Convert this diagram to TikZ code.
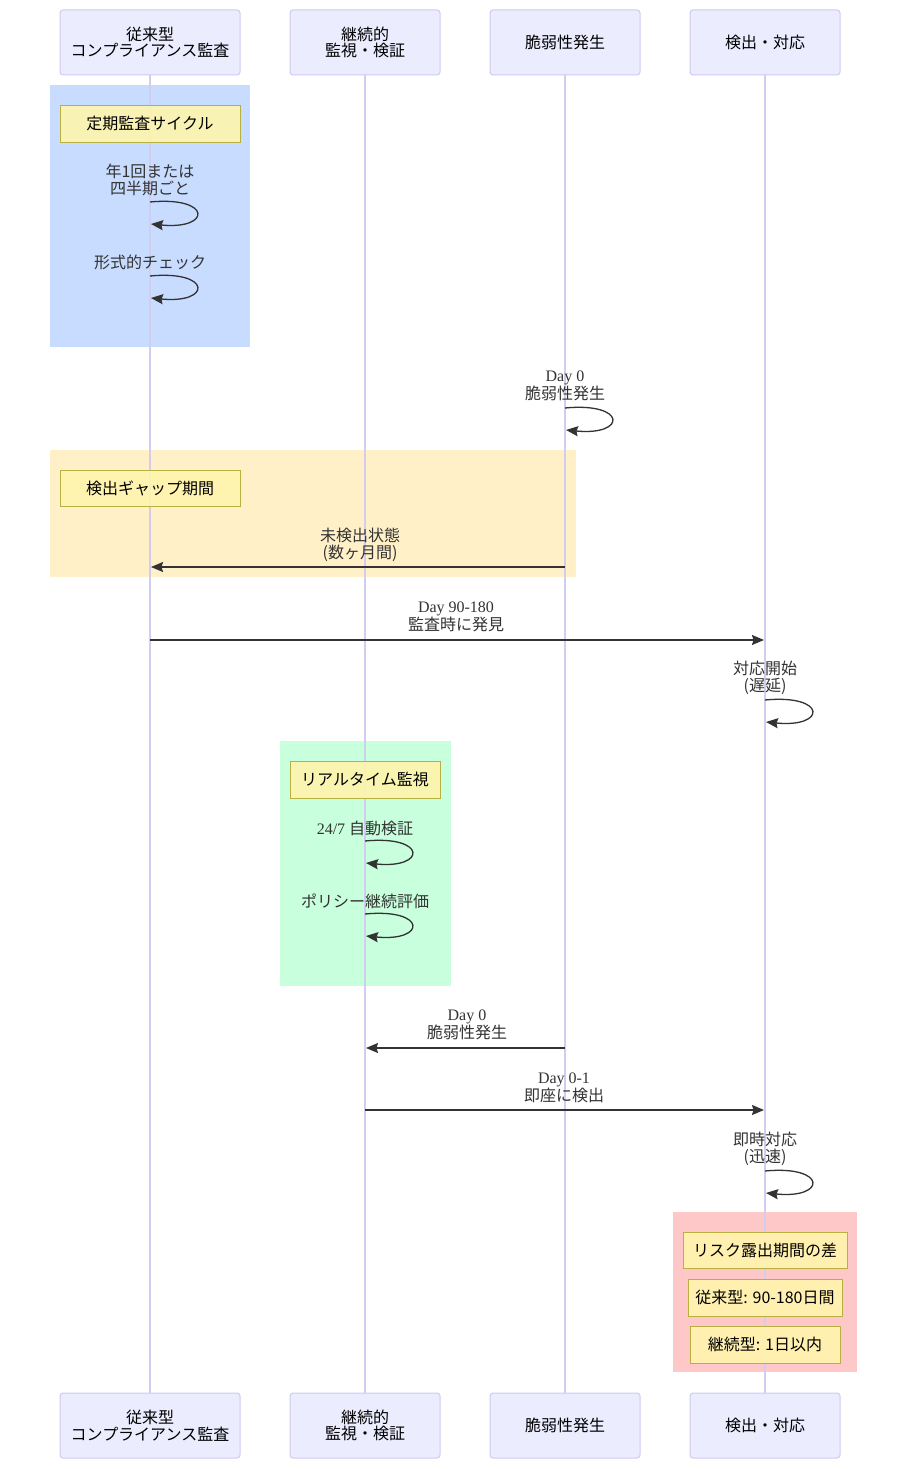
\documentclass[tikz,border=0pt]{standalone}
\usepackage{fontspec}
\setmainfont{Liberation Serif}
\newfontfamily\jp{Noto Sans CJK JP}
\usetikzlibrary{arrows.meta}
\definecolor{actfill}{HTML}{ECECFF}
\definecolor{actline}{HTML}{CFCAF0}
\definecolor{lifel}{HTML}{D2CCEE}
\definecolor{notefill}{HTML}{FFF5AD}
\definecolor{noteline}{HTML}{B8B040}
\definecolor{txt}{HTML}{333333}
\definecolor{bgblue}{RGB}{200,220,255}
\definecolor{bgorange}{RGB}{255,240,200}
\definecolor{bggreen}{RGB}{200,255,220}
\definecolor{bgpink}{RGB}{255,200,200}
\pgfdeclarelayer{bg}
\pgfsetlayers{bg,main}
\tikzset{
  actor/.style={draw=actline, line width=1pt, fill=actfill, rounded corners=3pt, minimum height=65pt, inner sep=0pt, align=center, text=black, font=\jp\fontsize{16}{16.5}\selectfont},
  notebox/.style={draw=noteline, line width=0.8pt, fill=notefill, fill opacity=0.9, text opacity=1, inner sep=0pt, align=center, text=black, font=\jp\fontsize{16}{16.5}\selectfont},
  lifeline/.style={draw=lifel, line width=1.3pt},
  msg/.style={draw=txt, line width=1.3pt, -{Stealth[length=12pt,width=10pt,inset=1.5pt]}},
  lbl/.style={align=center, text=txt, inner sep=0pt, font=\fontsize{16}{16.8}\selectfont}
}
\begin{document}
\begin{tikzpicture}[x=1pt,y=-1pt]
\useasboundingbox (0,0) rectangle (907,1469);

% background rects
\begin{pgfonlayer}{bg}
\fill[white] (0,0) rectangle (907,1469);
\fill[bgblue] (50,85) rectangle (250,347);
\fill[bgorange] (50,450) rectangle (576,577);
\fill[bggreen] (280,741) rectangle (451,986);
\fill[bgpink] (673,1212) rectangle (857,1372);
\end{pgfonlayer}

% actors
\node[actor, minimum width=180pt] (a1) at (150,42.5) {従来型\\コンプライアンス監査};
\node[actor, minimum width=150pt] (a2) at (365,42.5) {継続的\\監視・検証};
\node[actor, minimum width=150pt] (a3) at (565,42.5) {脆弱性発生};
\node[actor, minimum width=150pt] (a4) at (765,42.5) {検出・対応};
\node[actor, minimum width=180pt] (b1) at (150,1425.5) {従来型\\コンプライアンス監査};
\node[actor, minimum width=150pt] (b2) at (365,1425.5) {継続的\\監視・検証};
\node[actor, minimum width=150pt] (b3) at (565,1425.5) {脆弱性発生};
\node[actor, minimum width=150pt] (b4) at (765,1425.5) {検出・対応};

% lifelines
\draw[lifeline] (a1.south) -- (b1.north);
\draw[lifeline] (a2.south) -- (b2.north);
\draw[lifeline] (a3.south) -- (b3.north);
\draw[lifeline] (a4.south) -- (b4.north);

% notes
\node[notebox, minimum width=180pt, minimum height=37pt] (n1) at (150,123.5) {定期監査サイクル};
\node[notebox, minimum width=180pt, minimum height=36pt] (n2) at (150,488) {検出ギャップ期間};
\node[notebox, minimum width=150pt, minimum height=37pt] (n3) at (365,779.5) {リアルタイム監視};
\node[notebox, minimum width=164pt, minimum height=36pt] (n4) at (765,1250) {リスク露出期間の差};
\node[notebox, minimum width=154pt, minimum height=37pt] (n5) at (765,1297.5) {従来型: 90-180日間};
\node[notebox, minimum width=150pt, minimum height=37pt] (n6) at (765,1344.5) {継続型: 1日以内};

% self messages
\node[lbl] (l1) at (150,180) {\jp 年1回または\\\jp 四半期ごと};
\coordinate (s1a) at (150,202); \coordinate (s1b) at (151,224);
\draw[msg] (s1a) .. controls (212,196) and (212,230) .. (s1b);

\node[lbl] (l2) at (150,262) {\jp 形式的チェック};
\coordinate (s2a) at (150,276); \coordinate (s2b) at (151,298);
\draw[msg] (s2a) .. controls (212,270) and (212,304) .. (s2b);

\node[lbl] (l3) at (565,385.5) {Day 0\\\jp 脆弱性発生};
\coordinate (s3a) at (565,408); \coordinate (s3b) at (566,430);
\draw[msg] (s3a) .. controls (627,402) and (627,436) .. (s3b);

\node[lbl] (l4) at (765,677.5) {\jp 対応開始\\\jp (遅延)};
\coordinate (s4a) at (765,700); \coordinate (s4b) at (766,722);
\draw[msg] (s4a) .. controls (827,694) and (827,728) .. (s4b);

\node[lbl] (l5) at (365,828) {24/7 {\jp 自動検証}};
\coordinate (s5a) at (365,841); \coordinate (s5b) at (366,863);
\draw[msg] (s5a) .. controls (427,835) and (427,869) .. (s5b);

\node[lbl] (l6) at (365,901) {\jp ポリシー継続評価};
\coordinate (s6a) at (365,914); \coordinate (s6b) at (366,936);
\draw[msg] (s6a) .. controls (427,908) and (427,942) .. (s6b);

\node[lbl] (l7) at (765,1148.5) {\jp 即時対応\\\jp (迅速)};
\coordinate (s7a) at (765,1171); \coordinate (s7b) at (766,1193);
\draw[msg] (s7a) .. controls (827,1165) and (827,1199) .. (s7b);

% messages between lifelines
\coordinate (m1s) at (565,567); \coordinate (m1e) at (151,567);
\node[lbl] (t1) at (360,545) {\jp 未検出状態\\\jp (数ヶ月間)};
\draw[msg] (m1s) -- (m1e);

\coordinate (m2s) at (150,640); \coordinate (m2e) at (764,640);
\node[lbl] (t2) at (456,617) {Day 90-180\\\jp 監査時に発見};
\draw[msg] (m2s) -- (m2e);

\coordinate (m3s) at (565,1048); \coordinate (m3e) at (366,1048);
\node[lbl] (t3) at (467,1024.5) {Day 0\\\jp 脆弱性発生};
\draw[msg] (m3s) -- (m3e);

\coordinate (m4s) at (365,1110); \coordinate (m4e) at (764,1110);
\node[lbl] (t4) at (564,1087.5) {Day 0-1\\\jp 即座に検出};
\draw[msg] (m4s) -- (m4e);
\end{tikzpicture}
\end{document}
